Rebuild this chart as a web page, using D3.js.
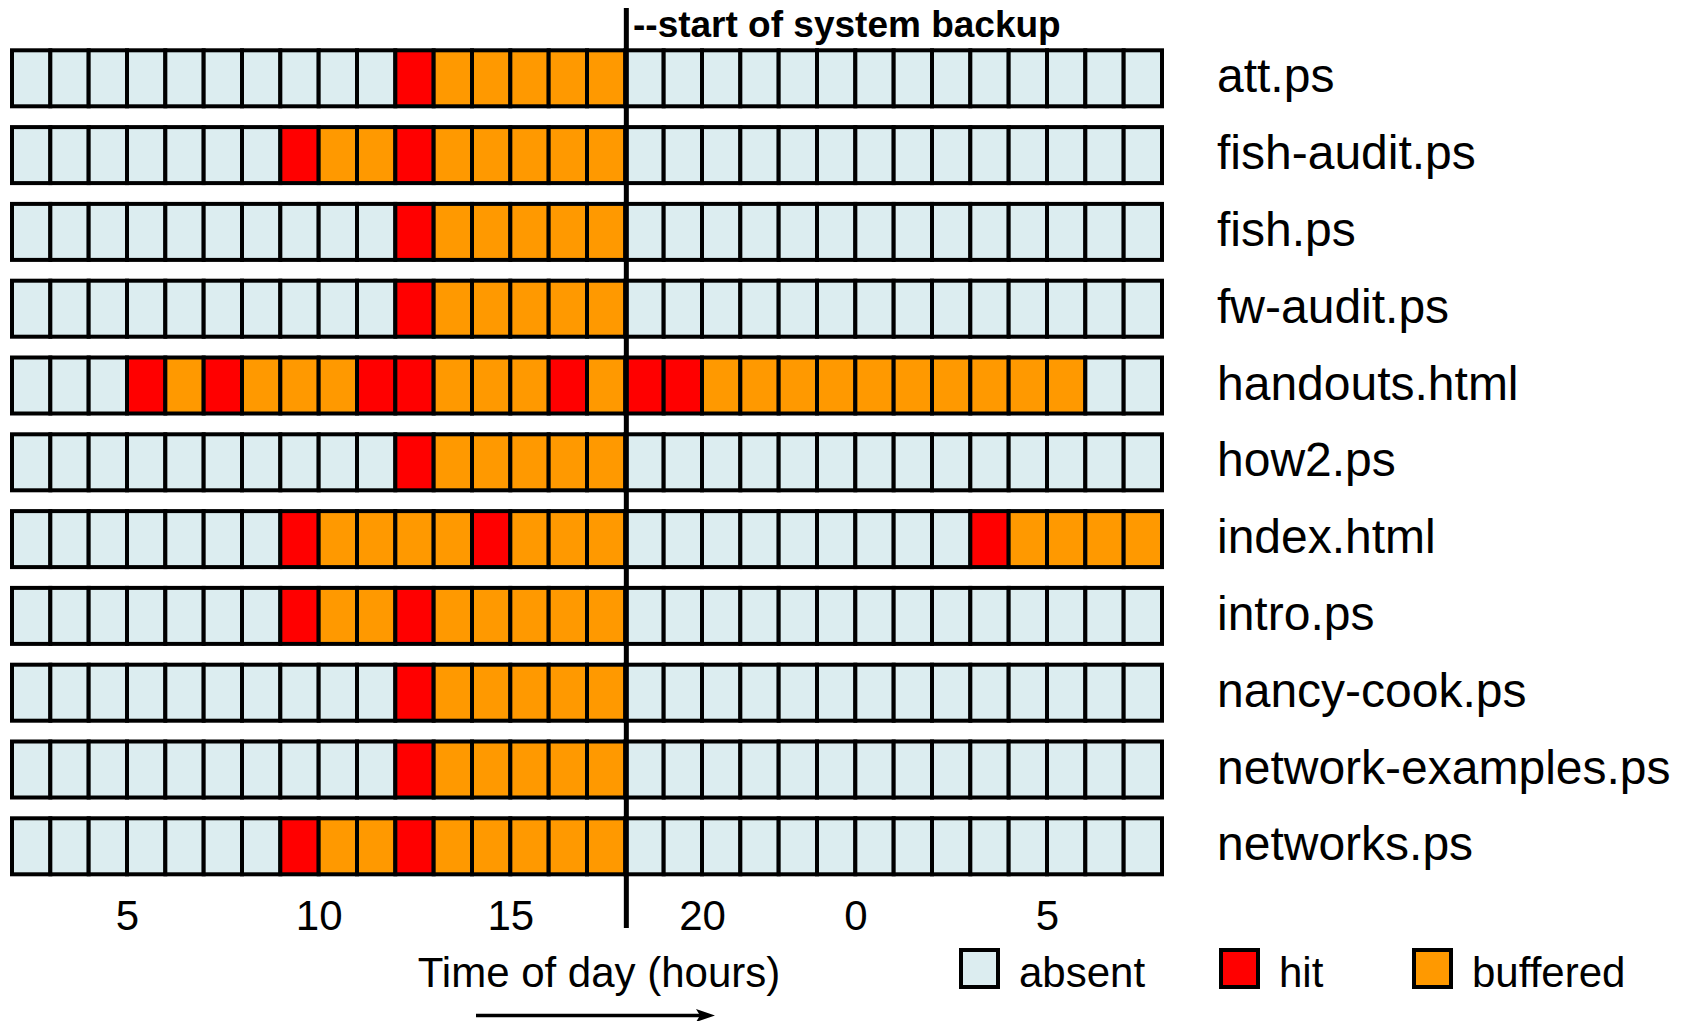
<!DOCTYPE html>
<html>
<head>
<meta charset="utf-8">
<script src="https://cdn.jsdelivr.net/npm/d3@7"></script>
<style>
  html, body { margin: 0; padding: 0; background: #ffffff; }
  svg { display: block; font-family: "Liberation Sans", Arial, Helvetica, sans-serif; }
</style>
</head>
<body>
<svg id="chart" width="1682" height="1021"></svg>
<script>
// ---- data ----
const files = ["att.ps", "fish-audit.ps", "fish.ps", "fw-audit.ps", "handouts.html",
  "how2.ps", "index.html", "intro.ps", "nancy-cook.ps", "network-examples.ps", "networks.ps"];
// hour at which the first cell starts; 30 hourly cells follow
const startHour = 2;
const hourCount = 30;
// 0 = absent, 1 = hit, 2 = buffered
const attStates          = [0,0,0,0,0,0,0,0,0,0,1,2,2,2,2,2,0,0,0,0,0,0,0,0,0,0,0,0,0,0];
const fishAuditStates    = [0,0,0,0,0,0,0,1,2,2,1,2,2,2,2,2,0,0,0,0,0,0,0,0,0,0,0,0,0,0];
const fishStates         = [0,0,0,0,0,0,0,0,0,0,1,2,2,2,2,2,0,0,0,0,0,0,0,0,0,0,0,0,0,0];
const fwAuditStates      = [0,0,0,0,0,0,0,0,0,0,1,2,2,2,2,2,0,0,0,0,0,0,0,0,0,0,0,0,0,0];
const handoutsStates     = [0,0,0,1,2,1,2,2,2,1,1,2,2,2,1,2,1,1,2,2,2,2,2,2,2,2,2,2,0,0];
const how2States         = [0,0,0,0,0,0,0,0,0,0,1,2,2,2,2,2,0,0,0,0,0,0,0,0,0,0,0,0,0,0];
const indexStates        = [0,0,0,0,0,0,0,1,2,2,2,2,1,2,2,2,0,0,0,0,0,0,0,0,0,1,2,2,2,2];
const introStates        = [0,0,0,0,0,0,0,1,2,2,1,2,2,2,2,2,0,0,0,0,0,0,0,0,0,0,0,0,0,0];
const nancyCookStates    = [0,0,0,0,0,0,0,0,0,0,1,2,2,2,2,2,0,0,0,0,0,0,0,0,0,0,0,0,0,0];
const netExamplesStates  = [0,0,0,0,0,0,0,0,0,0,1,2,2,2,2,2,0,0,0,0,0,0,0,0,0,0,0,0,0,0];
const networksStates     = [0,0,0,0,0,0,0,1,2,2,1,2,2,2,2,2,0,0,0,0,0,0,0,0,0,0,0,0,0,0];
const allStates = [attStates, fishAuditStates, fishStates, fwAuditStates, handoutsStates,
  how2States, indexStates, introStates, nancyCookStates, netExamplesStates, networksStates];

const stateNames = ["absent", "hit", "buffered"];
const stateColors = ["#dcedf0", "#ff0000", "#ff9900"];
const tickHours = [5, 10, 15, 20, 24, 29];
const tickLabels = ["5", "10", "15", "20", "0", "5"];
const backupHour = 18;
const backupLabel = "--start of system backup";
const xTitle = "Time of day (hours)";

// ---- scales ----
const svg = d3.select("#chart");
const x = d3.scaleLinear().domain([startHour, startHour + hourCount]).range([12, 1162]);
const y = d3.scaleBand().domain(files).range([50.3, 874.3]).paddingInner(20.8 / 76.8).paddingOuter(0);
const color = d3.scaleOrdinal().domain([0, 1, 2]).range(stateColors);

// ---- cells ----
const cells = [];
files.forEach((f, r) => {
  allStates[r].forEach((s, i) => cells.push({ file: f, hour: startHour + i, state: s }));
});

svg.append("g").selectAll("rect")
  .data(cells)
  .join("rect")
  .attr("x", d => x(d.hour))
  .attr("y", d => y(d.file))
  .attr("width", d => x(d.hour + 1) - x(d.hour))
  .attr("height", y.bandwidth())
  .attr("fill", d => color(d.state))
  .attr("stroke", "#000")
  .attr("stroke-width", 4);

// ---- file labels ----
svg.append("g").selectAll("text")
  .data(files)
  .join("text")
  .attr("x", 1217)
  .attr("y", d => y(d) + y.bandwidth() / 2 + 14)
  .attr("font-size", 48)
  .attr("fill", "#000")
  .text(d => d);

// ---- backup line ----
svg.append("line")
  .attr("x1", x(backupHour) + 1).attr("x2", x(backupHour) + 1)
  .attr("y1", 8).attr("y2", 928)
  .attr("stroke", "#000").attr("stroke-width", 5);
svg.append("text")
  .attr("x", 633).attr("y", 37)
  .attr("font-size", 37).attr("font-weight", "bold")
  .attr("fill", "#000")
  .text(backupLabel);

// ---- x axis ----
const axis = d3.axisBottom(x)
  .tickValues(tickHours)
  .tickSize(0)
  .tickFormat((d, i) => tickLabels[i]);
const gAxis = svg.append("g").call(axis);
gAxis.select(".domain").remove();
gAxis.selectAll("text")
  .attr("y", 930).attr("dy", 0)
  .attr("font-size", 42)
  .attr("font-family", "Liberation Sans, Arial, sans-serif")
  .attr("fill", "#000");

svg.append("text")
  .attr("x", 599).attr("y", 987)
  .attr("text-anchor", "middle")
  .attr("font-size", 42)
  .attr("fill", "#000")
  .text(xTitle);

// arrow
svg.append("line")
  .attr("x1", 476).attr("x2", 700)
  .attr("y1", 1015.5).attr("y2", 1015.5)
  .attr("stroke", "#000").attr("stroke-width", 3.5);
svg.append("path")
  .attr("d", "M715,1015.5 L696,1009 L700,1015.5 L696,1022 Z")
  .attr("fill", "#000");

// ---- legend ----
const legendX = [961, 1221, 1414];
const legend = svg.append("g").selectAll("g")
  .data(stateNames)
  .join("g")
  .attr("transform", (d, i) => `translate(${legendX[i]},950)`);
legend.append("rect")
  .attr("width", 37).attr("height", 37)
  .attr("fill", (d, i) => stateColors[i])
  .attr("stroke", "#000").attr("stroke-width", 4);
legend.append("text")
  .attr("x", 58).attr("y", 37)
  .attr("font-size", 42)
  .attr("fill", "#000")
  .text(d => d);
</script>
</body>
</html>
